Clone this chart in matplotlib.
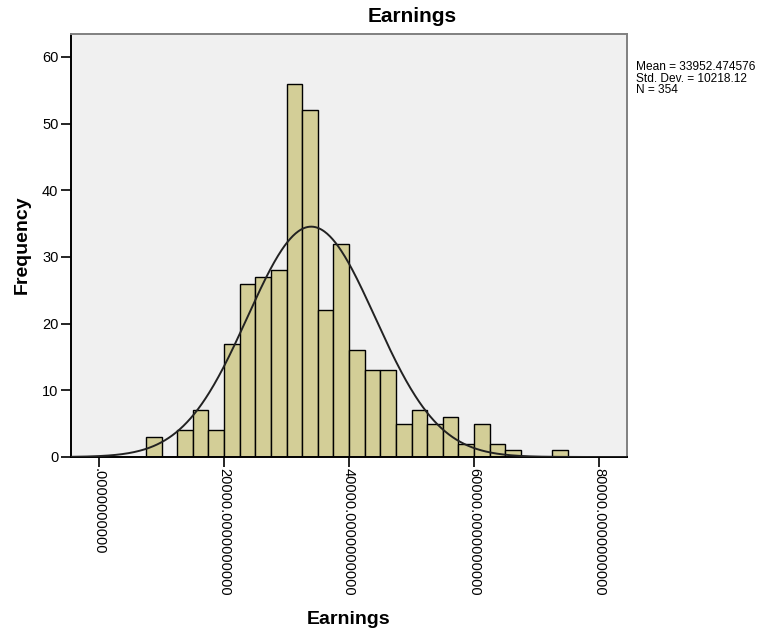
import numpy as np
import matplotlib
matplotlib.use("Agg")
import matplotlib.pyplot as plt

# Histogram data (bin width 2500)
bin_left = [7500, 10000, 12500, 15000, 17500, 20000, 22500, 25000, 27500,
            30000, 32500, 35000, 37500, 40000, 42500, 45000, 47500, 50000,
            52500, 55000, 57500, 60000, 62500, 65000, 67500, 70000, 72500]
counts = [3, 0, 4, 7, 4, 17, 26, 27, 28, 56, 52, 22, 32, 16, 13, 13, 5, 7,
          5, 6, 2, 5, 2, 1, 0, 0, 1]
bin_width = 2500

mean = 33952.474576
std_dev = 10218.12
n_obs = 354

x_ticks = [0, 20000, 40000, 60000, 80000]
x_tick_labels = [".0000000000", "20000.0000000000", "40000.0000000000",
                 "60000.0000000000", "80000.0000000000"]
y_ticks = [0, 10, 20, 30, 40, 50, 60]

plt.rcParams["font.family"] = ["Liberation Sans", "DejaVu Sans"]

fig = plt.figure(figsize=(7.61, 6.33), dpi=100)
ax = fig.add_axes([71 / 761, (633 - 457) / 633, (627 - 71) / 761, (457 - 34) / 633])
ax.set_facecolor("#f0f0f0")

ax.bar(bin_left, counts, width=bin_width, align="edge", color="#d3ce97",
       edgecolor="black", linewidth=1.0, zorder=2)

# Normal curve scaled to counts
xmin, xmax = -4480, 84480
xs = np.linspace(xmin, xmax, 600)
ys = n_obs * bin_width / (std_dev * np.sqrt(2 * np.pi)) * np.exp(-0.5 * ((xs - mean) / std_dev) ** 2)
ax.plot(xs, ys, color="#222222", linewidth=1.4, zorder=3)

ax.set_xlim(xmin, xmax)
ax.set_ylim(0, 63.45)
ax.set_xticks(x_ticks)
ax.set_xticklabels(x_tick_labels, rotation=-90, fontsize=10.5, va="top", ha="center")
ax.set_yticks(y_ticks)
ax.tick_params(axis="y", labelsize=10.5, length=7, width=1.2, direction="out", pad=2)
ax.tick_params(axis="x", length=7, width=1.2, direction="out", pad=1)

for side in ["left", "bottom"]:
    ax.spines[side].set_color("black")
    ax.spines[side].set_linewidth(1.4)
for side in ["top", "right"]:
    ax.spines[side].set_color("#808080")
    ax.spines[side].set_linewidth(1.4)

fig.text(412 / 761, 1 - 17 / 633, "Earnings", fontsize=15, fontweight="bold",
         ha="center", va="center")
fig.text(349 / 761, 1 - 620 / 633, "Earnings", fontsize=14, fontweight="bold",
         ha="center", va="center")
fig.text(22 / 761, 1 - 245 / 633, "Frequency", fontsize=14, fontweight="bold",
         ha="center", va="center", rotation=90)

stats = f"Mean = {mean:.6f}\nStd. Dev. = {std_dev:.2f}\nN = {n_obs}"
fig.text(636 / 761, 1 - 61 / 633, stats, fontsize=8.6, ha="left", va="top",
         linespacing=0.95)

fig.savefig("out.png", dpi=100)
plt.close(fig)
